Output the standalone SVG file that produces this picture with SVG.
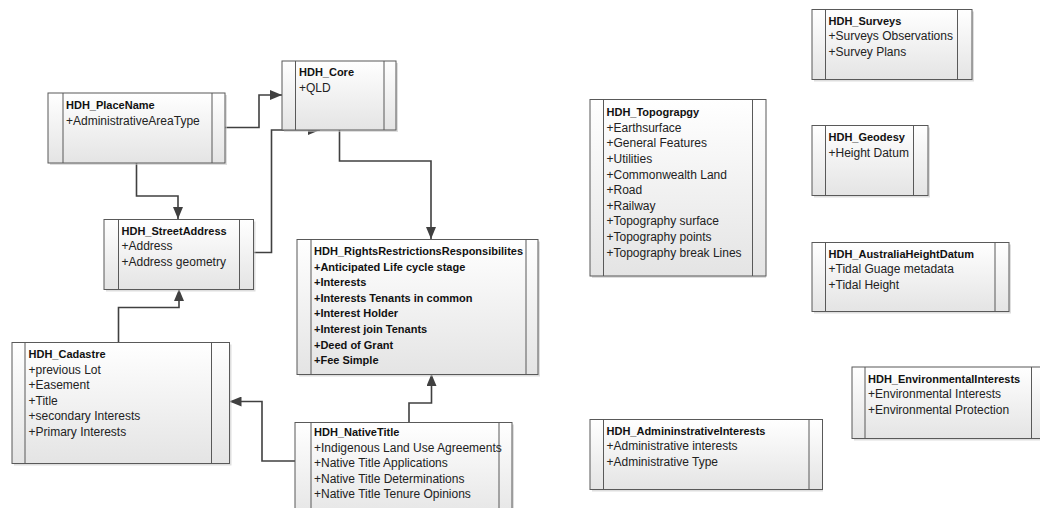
<svg xmlns="http://www.w3.org/2000/svg" width="1040" height="508" viewBox="0 0 1040 508">
<style>
.box{fill:url(#g);stroke:#595959;stroke-width:1}
.sh{fill:#c8c8c8;opacity:.6}
.dv{stroke:#595959;stroke-width:1}
.t{font-family:"Liberation Sans",Arial,sans-serif;font-size:11px;font-weight:bold;fill:#111}
.a{font-family:"Liberation Sans",Arial,sans-serif;font-size:12px;fill:#222}
.ab{font-family:"Liberation Sans",Arial,sans-serif;font-size:11px;font-weight:bold;fill:#111}
.c{fill:none;stroke:#404040;stroke-width:1.6;marker-end:url(#arr)}
</style>
<defs>
<linearGradient id="g" x1="0" y1="0" x2="0" y2="1">
<stop offset="0" stop-color="#ffffff"/>
<stop offset="1" stop-color="#e4e4e4"/>
</linearGradient>
<marker id="arr" viewBox="0 0 12 10" refX="12" refY="5" markerWidth="12" markerHeight="10" markerUnits="userSpaceOnUse" orient="auto">
<path d="M0,0 L12,5 L0,10 z" fill="#404040"/>
</marker>
</defs>
<rect width="1040" height="508" fill="#ffffff"/>

<g id="connectors">
<path class="c" d="M225,127.5 H259 V95 H282"/>
<path class="c" d="M136.5,163 V196 H178 V219"/>
<path class="c" d="M253,252.5 H271.5 V130 H320"/>
<path class="c" d="M339.5,130 V161 H431 V239"/>
<path class="c" d="M118.5,342 V307.5 H179 V289"/>
<path class="c" d="M295,461 H262 V401.5 H229.5"/>
<path class="c" d="M409,422 V403 H431.5 V374"/>
</g>

<g id="HDH_PlaceName">
<rect class="sh" x="50" y="95" width="177" height="70"/>
<rect class="box" x="48" y="93" width="177" height="70"/>
<line class="dv" x1="63" y1="93" x2="63" y2="163"/><line class="dv" x1="212" y1="93" x2="212" y2="163"/>
<text class="t" x="66" y="108.5">HDH_PlaceName</text>
<text class="a" x="66" y="124.5">+AdministrativeAreaType</text>
</g>

<g id="HDH_Core">
<rect class="sh" x="284" y="63" width="114" height="69"/>
<rect class="box" x="282" y="61" width="114" height="69"/>
<line class="dv" x1="295.5" y1="61" x2="295.5" y2="130"/><line class="dv" x1="384" y1="61" x2="384" y2="130"/>
<text class="t" x="299" y="76">HDH_Core</text>
<text class="a" x="299" y="91.5">+QLD</text>
</g>

<g id="HDH_StreetAddress">
<rect class="sh" x="106" y="221.5" width="149.5" height="70"/>
<rect class="box" x="104" y="219.5" width="149.5" height="70"/>
<line class="dv" x1="118.5" y1="219.5" x2="118.5" y2="289.5"/><line class="dv" x1="239.5" y1="219.5" x2="239.5" y2="289.5"/>
<text class="t" x="121.5" y="234.5">HDH_StreetAddress</text>
<text class="a" x="121.5" y="250">+Address</text>
<text class="a" x="121.5" y="266">+Address geometry</text>
</g>

<g id="HDH_Cadastre">
<rect class="sh" x="14" y="344.5" width="217.5" height="121"/>
<rect class="box" x="12" y="342.5" width="217.5" height="121"/>
<line class="dv" x1="25" y1="342.5" x2="25" y2="463.5"/><line class="dv" x1="211.5" y1="342.5" x2="211.5" y2="463.5"/>
<text class="t" x="28.5" y="358">HDH_Cadastre</text>
<text class="a" x="28.5" y="373.6">+previous Lot</text>
<text class="a" x="28.5" y="389.2">+Easement</text>
<text class="a" x="28.5" y="404.8">+Title</text>
<text class="a" x="28.5" y="420.4">+secondary Interests</text>
<text class="a" x="28.5" y="436">+Primary Interests</text>
</g>

<g id="HDH_RightsRestrictionsResponsibilites">
<rect class="sh" x="299" y="241.5" width="241" height="135"/>
<rect class="box" x="297" y="239.5" width="241" height="135"/>
<line class="dv" x1="311" y1="239.5" x2="311" y2="374.5"/><line class="dv" x1="526" y1="239.5" x2="526" y2="374.5"/>
<text class="t" x="314" y="255">HDH_RightsRestrictionsResponsibilites</text>
<text class="ab" x="314" y="270.6">+Anticipated Life cycle stage</text>
<text class="ab" x="314" y="286.2">+Interests</text>
<text class="ab" x="314" y="301.8">+Interests Tenants in common</text>
<text class="ab" x="314" y="317.4">+Interest Holder</text>
<text class="ab" x="314" y="333">+Interest join Tenants</text>
<text class="ab" x="314" y="348.6">+Deed of Grant</text>
<text class="ab" x="314" y="364.2">+Fee Simple</text>
</g>

<g id="HDH_NativeTitle">
<rect class="sh" x="297" y="424.5" width="217" height="100"/>
<rect class="box" x="295" y="422.5" width="217" height="100"/>
<line class="dv" x1="311" y1="422.5" x2="311" y2="522"/><line class="dv" x1="499" y1="422.5" x2="499" y2="522"/>
<text class="t" x="314" y="436">HDH_NativeTitle</text>
<text class="a" x="314" y="451.6">+Indigenous Land Use Agreements</text>
<text class="a" x="314" y="467.2">+Native Title Applications</text>
<text class="a" x="314" y="482.8">+Native Title Determinations</text>
<text class="a" x="314" y="498.4">+Native Title Tenure Opinions</text>
</g>

<g id="HDH_Topograpgy">
<rect class="sh" x="592" y="101.5" width="174" height="176.5"/>
<rect class="box" x="590" y="99.5" width="176" height="176.5"/>
<line class="dv" x1="603.5" y1="99.5" x2="603.5" y2="276"/><line class="dv" x1="752.5" y1="99.5" x2="752.5" y2="276"/>
<text class="t" x="606.5" y="116">HDH_Topograpgy</text>
<text class="a" x="606.5" y="131.6">+Earthsurface</text>
<text class="a" x="606.5" y="147.2">+General Features</text>
<text class="a" x="606.5" y="162.9">+Utilities</text>
<text class="a" x="606.5" y="178.5">+Commonwealth Land</text>
<text class="a" x="606.5" y="194.1">+Road</text>
<text class="a" x="606.5" y="209.7">+Railway</text>
<text class="a" x="606.5" y="225.3">+Topography surface</text>
<text class="a" x="606.5" y="241">+Topography points</text>
<text class="a" x="606.5" y="256.6">+Topography break Lines</text>
</g>

<g id="HDH_Surveys">
<rect class="sh" x="814" y="11.5" width="160" height="70"/>
<rect class="box" x="812" y="9.5" width="160" height="70"/>
<line class="dv" x1="825.5" y1="9.5" x2="825.5" y2="79.5"/><line class="dv" x1="957.5" y1="9.5" x2="957.5" y2="79.5"/>
<text class="t" x="828.5" y="24.5">HDH_Surveys</text>
<text class="a" x="828.5" y="40">+Surveys Observations</text>
<text class="a" x="828.5" y="55.7">+Survey Plans</text>
</g>

<g id="HDH_Geodesy">
<rect class="sh" x="814" y="127.5" width="116" height="70"/>
<rect class="box" x="812" y="125.5" width="116" height="70"/>
<line class="dv" x1="825.5" y1="125.5" x2="825.5" y2="195.5"/><line class="dv" x1="913.5" y1="125.5" x2="913.5" y2="195.5"/>
<text class="t" x="828.5" y="141">HDH_Geodesy</text>
<text class="a" x="828.5" y="156.7">+Height Datum</text>
</g>

<g id="HDH_AustraliaHeightDatum">
<rect class="sh" x="814" y="244.5" width="197" height="69"/>
<rect class="box" x="812" y="242.5" width="197" height="69"/>
<line class="dv" x1="825.5" y1="242.5" x2="825.5" y2="311.5"/><line class="dv" x1="995" y1="242.5" x2="995" y2="311.5"/>
<text class="t" x="828.5" y="257.8">HDH_AustraliaHeightDatum</text>
<text class="a" x="828.5" y="273.4">+Tidal Guage metadata</text>
<text class="a" x="828.5" y="289">+Tidal Height</text>
</g>

<g id="HDH_EnvironmentalInterests">
<rect class="sh" x="854" y="369" width="200" height="71.5"/>
<rect class="box" x="852" y="367" width="200" height="71.5"/>
<line class="dv" x1="865" y1="367" x2="865" y2="438.5"/><line class="dv" x1="1031.5" y1="367" x2="1031.5" y2="438.5"/>
<text class="t" x="868" y="382.8">HDH_EnvironmentalInterests</text>
<text class="a" x="868" y="398.4">+Environmental Interests</text>
<text class="a" x="868" y="414">+Environmental Protection</text>
</g>

<g id="HDH_AdmininstrativeInterests">
<rect class="sh" x="592" y="421.5" width="231" height="70"/>
<rect class="box" x="590" y="419.5" width="232.5" height="70"/>
<line class="dv" x1="603.5" y1="419.5" x2="603.5" y2="489.5"/><line class="dv" x1="809" y1="419.5" x2="809" y2="489.5"/>
<text class="t" x="606.5" y="434.5">HDH_AdmininstrativeInterests</text>
<text class="a" x="606.5" y="450">+Administrative interests</text>
<text class="a" x="606.5" y="465.7">+Administrative Type</text>
</g>
</svg>
